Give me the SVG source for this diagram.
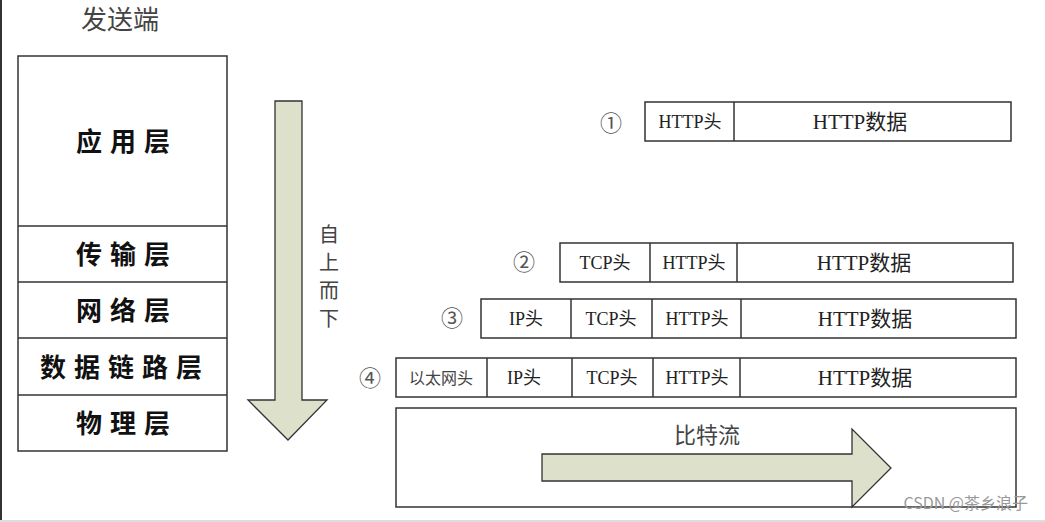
<svg xmlns="http://www.w3.org/2000/svg" width="1045" height="522" viewBox="0 0 1045 522">
<style>
.box{fill:#fff;stroke:#333;stroke-width:1.5}
.div{stroke:#333;stroke-width:1.5}
.arrow{fill:#dde1cb;stroke:#333;stroke-width:1.3}
.layer{font-family:"Noto Sans CJK SC",sans-serif;font-size:26px;font-weight:bold;fill:#111;text-anchor:middle;letter-spacing:8px}
.hdr{font-family:"Liberation Serif","Noto Sans CJK SC",serif;font-size:18px;fill:#222;text-anchor:middle}
.data{font-family:"Liberation Serif","Noto Sans CJK SC",serif;font-size:21px;fill:#222;text-anchor:middle}
.num{font-family:"Noto Sans CJK SC",sans-serif;font-size:22px;fill:#555;text-anchor:middle}
.gray{font-family:"Noto Sans CJK SC",sans-serif;fill:#444;text-anchor:middle}
</style>
<rect x="0" y="0" width="1045" height="522" fill="#fff"/>
<line x1="1" y1="0" x2="1" y2="520" stroke="#333" stroke-width="2"/>
<line x1="0" y1="521" x2="1045" y2="521" stroke="#ddd" stroke-width="2"/>
<text class="gray" x="120" y="29" font-size="26">发送端</text>
<g id="stack">
<rect class="box" x="18" y="56" width="209" height="395"/>
<line class="div" x1="18" y1="226" x2="227" y2="226"/>
<line class="div" x1="18" y1="282" x2="227" y2="282"/>
<line class="div" x1="18" y1="338" x2="227" y2="338"/>
<line class="div" x1="18" y1="395" x2="227" y2="395"/>
<text class="layer" x="127" y="151">应用层</text>
<text class="layer" x="127" y="264">传输层</text>
<text class="layer" x="127" y="320">网络层</text>
<text class="layer" x="125" y="377">数据链路层</text>
<text class="layer" x="127" y="433">物理层</text>
</g>
<g id="down-arrow">
<polygon class="arrow" points="275,101 302,101 302,400 327,400 288,440 248,400 275,400"/>
<text class="gray" font-size="20" x="329" y="242">自</text>
<text class="gray" font-size="20" x="329" y="270">上</text>
<text class="gray" font-size="20" x="329" y="298">而</text>
<text class="gray" font-size="20" x="329" y="326">下</text>
</g>
<g id="row1">
<text class="num" x="611" y="131">①</text>
<rect class="box" x="645" y="102" width="366" height="39"/>
<line class="div" x1="734" y1="102" x2="734" y2="141"/>
<text class="hdr" x="690" y="128">HTTP头</text>
<text class="data" x="860" y="129">HTTP数据</text>
</g>
<g id="row2">
<text class="num" x="524" y="270">②</text>
<rect class="box" x="560" y="243" width="453" height="39"/>
<line class="div" x1="650" y1="243" x2="650" y2="282"/>
<line class="div" x1="737" y1="243" x2="737" y2="282"/>
<text class="hdr" x="605" y="269">TCP头</text>
<text class="hdr" x="694" y="269">HTTP头</text>
<text class="data" x="864" y="270">HTTP数据</text>
</g>
<g id="row3">
<text class="num" x="452" y="326">③</text>
<rect class="box" x="481" y="299" width="535" height="39"/>
<line class="div" x1="571" y1="299" x2="571" y2="338"/>
<line class="div" x1="652" y1="299" x2="652" y2="338"/>
<line class="div" x1="741" y1="299" x2="741" y2="338"/>
<text class="hdr" x="526" y="325">IP头</text>
<text class="hdr" x="611" y="325">TCP头</text>
<text class="hdr" x="697" y="325">HTTP头</text>
<text class="data" x="865" y="326">HTTP数据</text>
</g>
<g id="row4">
<text class="num" x="370" y="386">④</text>
<rect class="box" x="396" y="358" width="620" height="39"/>
<line class="div" x1="487" y1="358" x2="487" y2="397"/>
<line class="div" x1="572" y1="358" x2="572" y2="397"/>
<line class="div" x1="653" y1="358" x2="653" y2="397"/>
<line class="div" x1="740" y1="358" x2="740" y2="397"/>
<text class="gray" font-size="16" x="441" y="384" fill="#666">以太网头</text>
<text class="hdr" x="524" y="384">IP头</text>
<text class="hdr" x="612" y="384">TCP头</text>
<text class="hdr" x="697" y="384">HTTP头</text>
<text class="data" x="865" y="385">HTTP数据</text>
</g>
<g id="bitstream">
<rect class="box" x="396" y="408" width="620" height="99"/>
<text class="gray" font-size="22" x="707" y="443">比特流</text>
<polygon class="arrow" points="542,454 852,454 852,429 891,468 852,507 852,481 542,481"/>
</g>
<text x="1028" y="509" font-family="'Noto Sans CJK SC',sans-serif" font-size="16" fill="#999" text-anchor="end">CSDN @茶乡浪子</text>
</svg>
